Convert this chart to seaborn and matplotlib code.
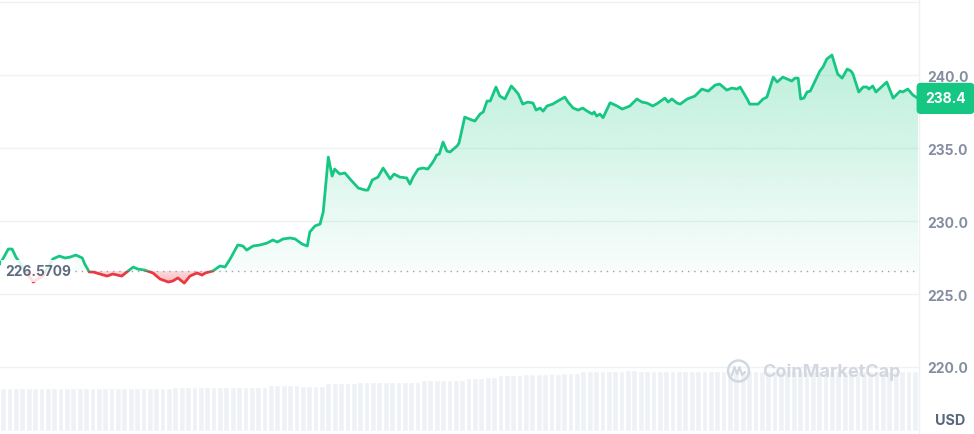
#!/usr/bin/env python3
import numpy as np
import matplotlib
matplotlib.use("Agg")
import matplotlib.pyplot as plt
import matplotlib.transforms as mtransforms
from matplotlib.colors import to_rgb
from matplotlib.lines import Line2D
from matplotlib.patches import Circle, PathPatch, Rectangle
import seaborn as sns

GREEN = "#16c784"
RED = "#ea3943"
GRID = "#eff2f5"
TEXT = "#58667e"

# 24h price (minutes from start of window, USD)
minutes = [
    0, 13, 19, 25, 52, 67, 83, 93, 102, 110,
    119, 129, 133, 140, 146, 157, 168, 177, 191, 199,
    209, 216, 227, 240, 251, 264, 271, 279, 289, 298,
    309, 317, 322, 334, 345, 353, 361, 373, 381, 387,
    397, 408, 419, 428, 435, 444, 455, 463, 474, 482,
    486, 494, 502, 507, 515, 521, 525, 533, 541, 549,
    562, 573, 577, 584, 593, 601, 612, 618, 627, 638,
    643, 648, 656, 664, 671, 678, 682, 685, 689, 695,
    701, 706, 717, 720, 729, 740, 745, 753, 758, 764,
    769, 778, 784, 792, 802, 808, 813, 820, 828, 836,
    841, 847, 852, 858, 867, 875, 886, 891, 899, 907,
    914, 921, 929, 932, 936, 941, 946, 957, 968, 976,
    988, 999, 1007, 1015, 1024, 1032, 1043, 1048, 1054, 1062,
    1067, 1078, 1090, 1101, 1111, 1122, 1129, 1140, 1148, 1156,
    1161, 1172, 1176, 1181, 1189, 1197, 1203, 1213, 1219, 1228,
    1242, 1247, 1252, 1256, 1261, 1266, 1271, 1286, 1291, 1297,
    1305, 1314, 1321, 1329, 1335, 1338, 1347, 1354, 1360, 1363,
    1369, 1374, 1391, 1401, 1412, 1416, 1424, 1432, 1440,
]
price = [
    227.05, 228.08, 228.08, 227.53, 225.82, 226.23, 227.40, 227.60, 227.47, 227.53,
    227.67, 227.47, 227.05, 226.51, 226.51, 226.37, 226.23, 226.37, 226.23, 226.51,
    226.85, 226.71, 226.64, 226.44, 226.03, 225.82, 225.89, 226.10, 225.75, 226.23,
    226.44, 226.30, 226.44, 226.58, 226.92, 226.85, 227.40, 228.36, 228.29, 228.01,
    228.29, 228.36, 228.49, 228.70, 228.56, 228.77, 228.84, 228.77, 228.42, 228.29,
    229.25, 229.66, 229.79, 230.62, 234.38, 233.08, 233.56, 233.22, 233.29, 232.88,
    232.26, 232.12, 232.12, 232.81, 233.01, 233.63, 232.88, 233.22, 233.01, 232.95,
    232.53, 233.01, 233.56, 233.63, 233.56, 233.97, 234.25, 234.52, 234.59, 235.41,
    234.79, 234.73, 235.14, 235.34, 237.12, 236.92, 236.85, 237.33, 237.47, 238.22,
    238.22, 239.18, 238.56, 238.36, 239.25, 238.97, 238.70, 238.01, 238.15, 238.08,
    237.60, 237.74, 237.53, 237.88, 238.01, 238.22, 238.49, 238.15, 237.74, 237.60,
    237.74, 237.53, 237.33, 237.47, 237.19, 237.33, 237.08, 238.10, 237.88, 237.67,
    237.88, 238.36, 238.15, 238.08, 237.88, 238.08, 238.42, 238.15, 238.36, 238.08,
    238.01, 238.36, 238.56, 239.04, 238.90, 239.32, 239.38, 238.97, 239.11, 239.04,
    239.18, 238.36, 238.01, 238.01, 238.01, 238.36, 238.49, 239.86, 239.52, 239.86,
    239.59, 239.79, 239.79, 238.36, 238.42, 238.84, 238.90, 240.27, 240.55, 241.10,
    241.37, 240.07, 239.79, 240.41, 240.27, 240.07, 238.84, 239.18, 239.18, 239.04,
    239.25, 238.84, 239.52, 238.42, 238.90, 238.84, 239.04, 238.63, 238.40,
]
open_price = 226.5709
last_price = 238.4

# volume, one bar per 10 minutes (arbitrary units)
vol_minutes = np.arange(5, 1440, 10)
volume = [
    430, 432, 430, 428, 430, 431, 430, 429, 430, 432, 430, 430,
    430, 431, 429, 430, 432, 430, 430, 428, 430, 431, 430, 430,
    430, 431, 430, 440, 441, 440, 438, 440, 442, 440, 440, 439,
    440, 441, 440, 442, 440, 440, 460, 461, 460, 458, 460, 450,
    451, 450, 449, 480, 481, 480, 478, 480, 490, 491, 490, 489,
    490, 492, 490, 491, 489, 490, 510, 511, 510, 509, 510, 512,
    510, 530, 531, 530, 540, 541, 560, 561, 560, 559, 570, 571,
    570, 569, 570, 571, 580, 581, 580, 600, 601, 600, 599, 600,
    601, 600, 610, 611, 600, 602, 600, 601, 600, 599, 600, 601,
    600, 601, 600, 602, 600, 599, 600, 601, 600, 600, 602, 600,
    601, 600, 599, 600, 601, 600, 602, 600, 600, 601, 599, 600,
    600, 601, 600, 602, 600, 601, 600, 599, 600, 601, 600, 600,
]
y_ticks = [220, 225, 230, 235, 240, 245]
y_tick_labels = ["220.0", "225.0", "230.0", "235.0", "240.0", ""]

sns.set_theme(style="white")
plt.rcParams["font.family"] = ["Inter", "DejaVu Sans"]

XMAX = 1440 * 919 / 918
YLIM = (215.41, 245.21)

fig = plt.figure(figsize=(9.74, 4.35), dpi=100)
plot_w = 919 / 974
axv = fig.add_axes([0, 0, plot_w, 1])
ax = fig.add_axes([0, 0, plot_w, 1])
ax.patch.set_alpha(0)

# volume bars
sns.barplot(x=vol_minutes, y=volume, native_scale=True, color="#eef1f5",
            saturation=1, width=0.9, errorbar=None, ax=axv)
axv.set_xlim(0, XMAX)
axv.set_ylim(-30, 4320)
axv.axis("off")

# gradient fills, clipped to the area between price and open
outline = ax.fill_between(minutes, price, open_price, facecolor="none", edgecolor="none")
clip = PathPatch(outline.get_paths()[0], transform=ax.transData,
                 facecolor="none", edgecolor="none")
ax.add_patch(clip)

grad_g = np.zeros((256, 1, 4))
grad_g[..., :3] = to_rgb(GREEN)
grad_g[:, 0, 3] = np.linspace(0.03, 0.29, 256)
im_g = ax.imshow(grad_g, extent=[0, XMAX, open_price, max(price)], origin="lower",
                 aspect="auto", zorder=2, interpolation="bilinear")
im_g.set_clip_path(clip)

grad_r = np.zeros((256, 1, 4))
grad_r[..., :3] = to_rgb(RED)
grad_r[:, 0, 3] = np.linspace(0.36, 0.18, 256)
im_r = ax.imshow(grad_r, extent=[0, XMAX, min(price), open_price], origin="lower",
                 aspect="auto", zorder=2, interpolation="bilinear")
im_r.set_clip_path(clip)

# price line: green above open, red below
sns.lineplot(x=minutes, y=price, ax=ax, color=GREEN, lw=2.0, zorder=4)
line_up = ax.lines[-1]
line_up.set_clip_path(Rectangle((0, open_price), XMAX, 50, transform=ax.transData))
sns.lineplot(x=minutes, y=price, ax=ax, color=RED, lw=2.0, zorder=4)
line_dn = ax.lines[-1]
line_dn.set_clip_path(Rectangle((0, open_price - 50), XMAX, 50, transform=ax.transData))
for ln in (line_up, line_dn):
    ln.set_solid_joinstyle("round")
    ln.set_solid_capstyle("round")

ax.axhline(open_price, xmin=75 / 919, xmax=1, color="#9aa3b3", lw=1,
           linestyle=(0, (1, 3.5)), zorder=3)

blend = mtransforms.blended_transform_factory(ax.transAxes, ax.transData)
ax.text(38 / 919, open_price, f"{open_price}", transform=blend, ha="center", va="center",
        fontsize=9.9, color="#5f6b80", fontweight="bold", zorder=6,
        bbox=dict(boxstyle="square,pad=0.3", fc="white", ec="none", alpha=0.85))
ax.text(945.5 / 919, last_price, f"{last_price}", transform=blend, ha="center", va="center",
        fontsize=10, color="white", fontweight="bold", zorder=6, clip_on=False,
        bbox=dict(boxstyle="round,pad=0.62,rounding_size=0.3", fc=GREEN, ec="none"))

ax.set_xlim(0, XMAX)
ax.set_ylim(*YLIM)
ax.set_xticks([])
ax.set_yticks(y_ticks)
ax.set_yticklabels(y_tick_labels)
ax.yaxis.tick_right()
ax.tick_params(axis="y", length=0, pad=5.8, labelsize=10, labelcolor="#858ea0")
for lbl in ax.get_yticklabels():
    lbl.set_fontweight("bold")
ax.grid(axis="y", color=GRID, lw=1)
ax.grid(axis="x", visible=False)
ax.set_xlabel("")
ax.set_ylabel("")
for side in ("top", "left", "bottom"):
    ax.spines[side].set_visible(False)
ax.spines["right"].set_color(GRID)
ax.spines["right"].set_linewidth(1)

fig.text(950 / 974, 1 - 421 / 435, "USD", ha="center", va="center",
         fontsize=10.3, fontweight="bold", color=TEXT)

# watermark
wm = "#d3d8e0"
fig.text(762 / 974, 1 - 372 / 435, "CoinMarketCap", ha="left", va="center",
         fontsize=13, fontweight="bold", color=wm)
fig.add_artist(Circle((7.385, 0.63), 0.105, transform=fig.dpi_scale_trans,
                      facecolor="none", edgecolor=wm, lw=1.8))
fig.add_artist(Line2D([7.32, 7.345, 7.37, 7.395, 7.42, 7.45],
                      [0.585, 0.67, 0.6, 0.67, 0.59, 0.62],
                      transform=fig.dpi_scale_trans, color=wm, lw=1.6))

fig.savefig("out.png", dpi=100)
